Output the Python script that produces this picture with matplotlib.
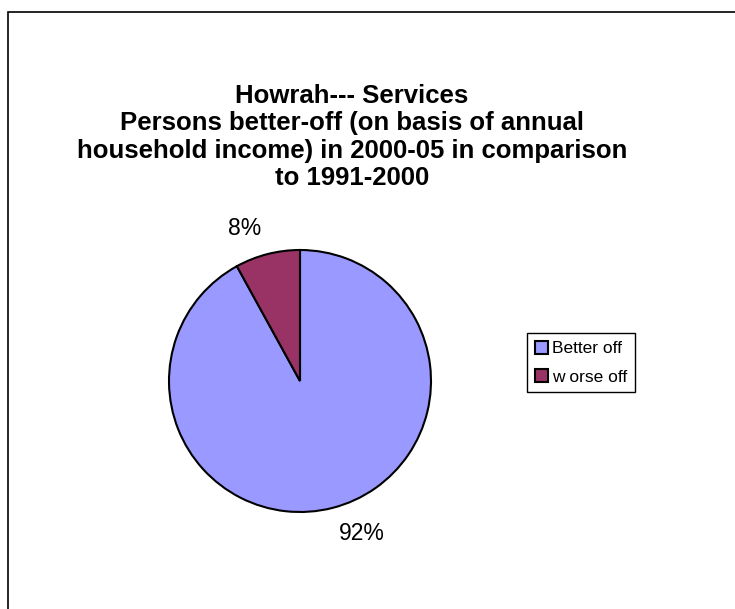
import matplotlib.pyplot as plt
from matplotlib.patches import Rectangle

labels = ['Better off', 'w orse off']
shares = [92, 8]
colors = ['#9999FF', '#993366']
title = ('Howrah--- Services\n'
         'Persons better-off (on basis of annual\n'
         'household income) in 2000-05 in comparison\n'
         'to 1991-2000')

plt.rcParams['font.family'] = ['Liberation Sans', 'DejaVu Sans']

W, H = 735, 609
fig = plt.figure(figsize=(W / 100, H / 100), dpi=100)

# outer chart border (right/bottom edges fall outside the image)
fig.patches.append(Rectangle((8 / W, -0.1), 1.2, 1 - 12 / H + 0.1,
                             transform=fig.transFigure, fill=False,
                             edgecolor='black', linewidth=1.2))

# pie axes: centre (300, 381) px, radius 131 px
cx, cy, r = 300, 381, 131
ax = fig.add_axes([(cx - r) / W, (H - cy - r) / H, 2 * r / W, 2 * r / H])
wedges, texts = ax.pie(shares, colors=colors, startangle=90, counterclock=False,
                       labels=[f'{v}%' for v in shares], labeldistance=1.2,
                       wedgeprops=dict(edgecolor='black', linewidth=1.5),
                       textprops=dict(fontsize=16.5))
ax.set_xlim(-1, 1)
ax.set_ylim(-1, 1)

fig.text(352 / W, 1 - 84 / H, title, ha='center', va='top', fontsize=18.5,
         fontweight='bold', linespacing=1.18)

leg = fig.legend(wedges, labels, loc='upper left',
                 bbox_to_anchor=(527 / W, 1 - 333 / H), borderaxespad=0,
                 fontsize=12.5, handlelength=0.75, handleheight=0.75,
                 handletextpad=0.25, labelspacing=0.75, borderpad=0.45,
                 fancybox=False, framealpha=1, edgecolor='black')
leg.get_frame().set_linewidth(1)
for h in leg.legend_handles:
    h.set_edgecolor('black')
    h.set_linewidth(1.5)

fig.savefig('out.png', dpi=100)
